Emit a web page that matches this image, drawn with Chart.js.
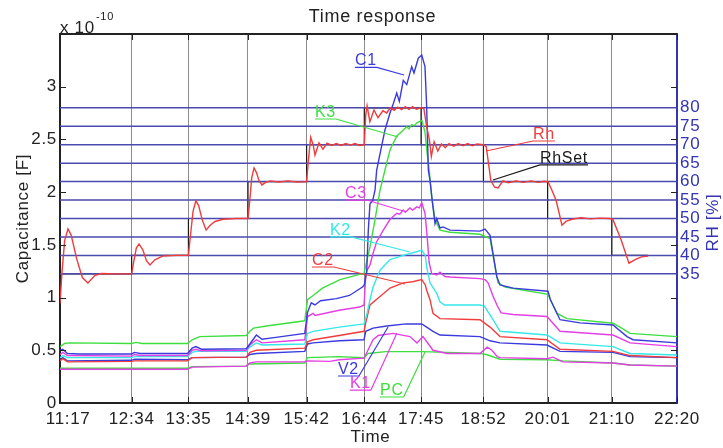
<!DOCTYPE html>
<html>
<head>
<meta charset="utf-8">
<script src="https://cdn.jsdelivr.net/npm/chart.js@4.4.1/dist/chart.umd.min.js"></script>
<style>
  html, body { margin: 0; padding: 0; background: #ffffff; }
  canvas { display: block; }
</style>
</head>
<body>
<canvas id="chart" width="723" height="448"></canvas>
<script>
// Time axis: minutes after 11:17
const timeTicks  = [0, 77, 138, 202, 265, 327, 388, 455, 524, 593, 663];
const timeLabels = ['11:17', '12:34', '13:35', '14:39', '15:42', '16:44', '17:45', '18:52', '20:01', '21:10', '22:20'];
const capTicks = [0, 0.5, 1, 1.5, 2, 2.5, 3];            // x 1e-10 F
const rhTicks  = [35, 40, 45, 50, 55, 60, 65, 70, 75, 80]; // %

// Humidity set point: level held from each change time
const rhSetChanges = [0, 77, 138, 202, 265, 327, 388, 455, 524, 593, 632];
const rhSetLevels  = [35, 40, 50, 60, 70, 80, 70, 60, 50, 40, 40];

// Measured humidity [%], [minute, value]
const Rh = [[0,27],[2,35],[5,44],[8.6,47.2],[12,45.5],[18,39],[24,34],[30,32.5],[37.6,34.6],[45,35.1],[60,35],[77,35],
  [79,38],[82,42],[84.9,43.1],[89,41.5],[93,38.5],[96.7,37.4],[102,38.8],[110,39.8],[125,40],[138,40],
  [140,45],[143,52],[146,54.8],[149,53.5],[153,49.5],[157,46.9],[162,48.3],[166.6,49.2],[175,49.8],[190,50],[202,50],
  [204,55],[206,61],[208.5,63.7],[211,62.5],[214,60.2],[217,59.1],[221,59.8],[226,60.2],[235,59.9],[245,60.2],[255,59.9],[265,60],
  [267,66],[269.4,72],[272,70],[274,67.2],[278.3,70.5],[282.6,68.8],[287,70.4],[292,69.8],[297,70.3],[302,69.8],[307,70.3],[312,69.9],[317,70.3],[322,69.8],[327,70],
  [328.5,78],[330,80.5],[333,76.2],[337.4,79.4],[341.7,77.3],[347,79.2],[351,78.6],[355,80],[359,79.3],[363,80.2],[367,79.5],[371,80.3],[375,79.6],[379,80.3],[383,79.6],[388,80],[391,79.8],
  [394,74.9],[397,71.3],[399,66.8],[402,70.8],[406,68.3],[410,70.2],[414,69.2],[418,70.3],[423,69.6],[428,70.3],[433,69.7],[438,70.3],[443,69.7],[448,70.2],[455,70],
  [458,69.5],[463,60.2],[467,58.5],[470.7,58.3],[476,60.2],[482,59.7],[490,60.2],[498,59.8],[506,60.2],[514,59.8],[520,60.1],[524.4,60],
  [528,58],[533,55],[539.4,48.2],[543.7,49.2],[550,49.8],[560,50.2],[570,49.9],[580,50.1],[590,50],
  [594,49.8],[603,44.2],[611.4,37.9],[619,39],[625,39.6],[632,39.8]];

// Sensor capacitances [x 1e-10 F], [minute, value]
const C1 = [[0,0.50],[3,0.51],[8,0.47],[20,0.465],[77,0.465],[80,0.48],[86,0.47],[137,0.47],[142,0.52],[146,0.535],[152,0.51],[200,0.515],
  [204,0.56],[211,0.645],[217,0.605],[230,0.62],[263,0.66],[266,0.86],[270,0.95],[274,0.93],[280,0.97],[297,0.99],[311,1.02],[325,1.10],[327,1.12],
  [329.6,1.25],[331.3,1.64],[333.1,1.89],[336,1.92],[338.5,2.02],[340.3,2.21],[349.2,2.59],[354.6,2.75],[358.2,2.84],[361.8,2.94],[364.6,2.86],
  [368.9,3.06],[372.6,3.02],[377.9,3.19],[380.4,3.13],[385,3.27],[388.7,3.30],[392.2,3.19],[394,2.81],[395.8,2.21],[397.6,2.11],[400.2,1.90],
  [403,1.70],[404.8,1.75],[408.3,1.66],[411.6,1.67],[419.1,1.64],[451.3,1.63],[456.7,1.65],[462.1,1.59],[469.3,1.20],[472.8,1.12],[486.8,1.09],
  [524.4,1.06],[527,0.98],[537.3,0.79],[558.8,0.76],[594.2,0.74],[609.3,0.63],[615.8,0.60],[663,0.57]];

const K3 = [[0,0.535],[5,0.565],[10,0.57],[77,0.565],[82,0.575],[88,0.565],[137,0.565],[142,0.60],[150,0.63],[200,0.64],
  [204,0.68],[208,0.71],[222,0.73],[263,0.78],[266,0.98],[272,1.02],[282,1.09],[301,1.17],[322,1.22],[326.7,1.23],
  [333.1,1.48],[338.5,1.74],[343.9,2.02],[349.2,2.21],[354.6,2.40],[361.8,2.53],[368.9,2.59],[372.6,2.62],[375,2.60],[377.9,2.64],
  [380.4,2.63],[384,2.66],[388.9,2.68],[392.2,2.57],[394.5,2.37],[396.7,2.21],[399.4,1.96],[403,1.74],[408.3,1.64],[419.1,1.62],
  [451.3,1.60],[462.1,1.56],[470.7,1.14],[478.2,1.10],[524.4,1.03],[527,0.98],[534,0.85],[544.8,0.80],[594.2,0.756],[601.8,0.72],[612.5,0.66],[663,0.63]];

const C3 = [[0,0.46],[3,0.48],[8,0.45],[77,0.445],[80,0.46],[86,0.45],[137,0.45],[142,0.50],[146,0.51],[152,0.495],[200,0.50],
  [204,0.55],[211,0.60],[217,0.57],[263,0.60],[266,0.82],[272,0.85],[274,0.83],[300,0.88],[322,0.91],[326.7,0.93],
  [328.5,1.20],[330,1.26],[333.1,1.31],[336.4,1.42],[340.3,1.53],[347.4,1.64],[354.6,1.74],[361.8,1.80],[365,1.79],[368.9,1.83],
  [371,1.81],[376.1,1.85],[379,1.83],[383.3,1.86],[386,1.85],[388.7,1.90],[392.2,1.80],[394.5,1.58],[396.7,1.33],[399.4,1.23],
  [404.8,1.215],[408.3,1.24],[413.7,1.20],[419.1,1.195],[451.3,1.18],[456.7,1.17],[460,1.14],[465,1.02],[470,0.92],[474,0.855],
  [486.8,0.84],[523.3,0.82],[537.3,0.68],[594.2,0.645],[612.5,0.57],[663,0.535]];

const K2 = [[0,0.43],[3,0.45],[8,0.43],[77,0.43],[80,0.44],[137,0.44],[142,0.48],[146,0.49],[200,0.49],
  [204,0.53],[211,0.57],[217,0.55],[263,0.56],[266,0.66],[272,0.68],[300,0.72],[326.7,0.75],
  [330,0.85],[333.1,0.98],[336.4,1.10],[343.9,1.26],[354.6,1.36],[368.9,1.40],[383.3,1.435],[388.7,1.45],[392.5,1.40],
  [394,1.29],[397.6,1.14],[404.8,1.04],[408.3,0.96],[413,0.93],[451.3,0.93],[456,0.92],[465.3,0.79],[472.8,0.68],
  [523.3,0.645],[537.3,0.57],[594.2,0.535],[612.5,0.47],[663,0.455]];

const C2 = [[0,0.40],[3,0.42],[8,0.39],[77,0.395],[80,0.40],[137,0.40],[142,0.43],[200,0.435],[204,0.48],[211,0.50],[263,0.52],
  [266,0.58],[272,0.60],[300,0.64],[326.7,0.68],[328.5,0.76],[333.1,0.93],[343.9,1.01],[354.6,1.09],[368.9,1.14],[379,1.15],
  [388.7,1.17],[392.5,1.12],[394,1.07],[397.6,0.98],[400.8,0.85],[408.3,0.80],[451.3,0.79],[462.1,0.72],[472.8,0.63],
  [523.3,0.60],[537.3,0.51],[594.2,0.49],[612.5,0.45],[663,0.43]];

const V2 = [[0,0.41],[3,0.43],[8,0.40],[77,0.405],[80,0.415],[137,0.41],[142,0.43],[200,0.435],[204,0.46],[211,0.47],[263,0.49],
  [266,0.56],[272,0.57],[300,0.59],[326.7,0.60],[328.5,0.68],[336.4,0.71],[351,0.73],[372,0.75],[388.7,0.75],[394,0.72],
  [400.8,0.68],[408.3,0.645],[451.3,0.63],[462.1,0.59],[472.8,0.57],[523.3,0.55],[537.3,0.49],[594.2,0.48],[612.5,0.44],[663,0.43]];

const K1 = [[0,0.32],[137,0.32],[142,0.34],[200,0.35],[204,0.38],[211,0.39],[263,0.39],[266,0.40],[290,0.395],[300,0.41],[326.7,0.425],
  [336.4,0.60],[342,0.64],[357.8,0.66],[376.1,0.63],[383.6,0.57],[390.1,0.63],[400.8,0.50],[415.9,0.47],[451.3,0.47],
  [459,0.53],[464,0.50],[470,0.44],[473,0.43],[523.3,0.42],[529.8,0.435],[540.5,0.39],[594.2,0.38],[612.5,0.36],[663,0.35]];

const PC = [[0,0.33],[137,0.33],[142,0.345],[200,0.35],[204,0.37],[263,0.38],[266,0.43],[300,0.44],[326.7,0.43],[331,0.47],
  [350,0.487],[390,0.487],[451.3,0.47],[458,0.46],[472.8,0.415],[523.3,0.41],[540.5,0.40],[594.2,0.38],[612.5,0.36],[663,0.35]];

const RED = '#f03c3c', BLUE = '#3a3ade', GREEN = '#3ede3e', MAGENTA = '#e43ee4', CYAN = '#34e8e8', BLACK = '#1a1a1a';
const AXIS_BLUE = '#3434b4', GRID_BLUE = '#4a4ab0', GRID_GRAY = '#8c8c8c';
const FONT = '"Liberation Sans", Arial, sans-serif';

// Labels with leader lines: text anchor and target, in (minute, capacitance) units
const callouts = [
  { text: 'C1',    color: BLUE,    at: [316.9, 3.184], to: [369.7, 3.111] },
  { text: 'K3',    color: GREEN,   at: [274.0, 2.694], to: [363.2, 2.523] },
  { text: 'Rh',    color: RED,     at: [508.3, 2.485], to: [457.8, 2.390] },
  { text: 'RhSet', color: BLACK,   at: [515.8, 2.258], to: [465.3, 2.115] },
  { text: 'C3',    color: MAGENTA, at: [306.3, 1.925], to: [368.6, 1.821] },
  { text: 'K2',    color: CYAN,    at: [290.1, 1.575], to: [376.1, 1.432] },
  { text: 'C2',    color: RED,     at: [270.8, 1.290], to: [370.7, 1.129] },
  { text: 'V2',    color: BLUE,    at: [298.7, 0.256], to: [352.5, 0.721] },
  { text: 'K1',    color: MAGENTA, at: [311.6, 0.123], to: [362.1, 0.664] },
  { text: 'PC',    color: GREEN,   at: [343.9, 0.057], to: [392.2, 0.484] }
];

const pts = arr => arr.map(p => ({ x: p[0], y: p[1] }));

function setPoints() {
  const out = [];
  for (let i = 0; i < rhSetChanges.length; i++) {
    if (i > 0) out.push({ x: rhSetChanges[i], y: rhSetLevels[i - 1] });
    out.push({ x: rhSetChanges[i], y: rhSetLevels[i] });
  }
  return out;
}

function line(label, data, color, axis, width) {
  return { label, data, borderColor: color, borderWidth: width || 1.4, pointRadius: 0, tension: 0,
           fill: false, yAxisID: axis || 'y' };
}

const datasets = [
  line('Rh', pts(Rh), RED, 'y2'),
  line('C1', pts(C1), BLUE),
  line('K3', pts(K3), GREEN),
  line('C3', pts(C3), MAGENTA),
  line('K2', pts(K2), CYAN),
  line('C2', pts(C2), RED),
  line('V2', pts(V2), BLUE),
  line('K1', pts(K1), MAGENTA),
  line('PC', pts(PC), GREEN),
  line('RhSet', setPoints(), BLACK, 'y2', 1.2)
];

const decorations = {
  id: 'decorations',
  beforeDraw(chart) {
    chart.ctx.letterSpacing = '0.7px';
  },
  // humidity grid lines sit over the set-point trace, under the measured traces
  afterDatasetDraw(chart, args) {
    if (chart.data.datasets[args.index].label !== 'RhSet') return;
    const { ctx, chartArea: a, scales } = chart;
    ctx.save();
    ctx.strokeStyle = GRID_BLUE;
    ctx.lineWidth = 1.5;
    ctx.beginPath();
    rhTicks.forEach(v => {
      const py = scales.y2.getPixelForValue(v);
      ctx.moveTo(a.left, py); ctx.lineTo(a.right, py);
    });
    ctx.stroke();
    ctx.restore();
  },
  afterDatasetsDraw(chart) {
    const { ctx, scales } = chart;
    const x = scales.x, y = scales.y;
    ctx.save();
    ctx.font = '16px ' + FONT;
    ctx.lineWidth = 1.2;
    callouts.forEach(c => {
      const x0 = x.getPixelForValue(c.at[0]);
      const y0 = y.getPixelForValue(c.at[1]);
      const w = ctx.measureText(c.text).width;
      const tx = x.getPixelForValue(c.to[0]);
      const ty = y.getPixelForValue(c.to[1]);
      ctx.fillStyle = c.color;
      ctx.strokeStyle = c.color;
      ctx.textBaseline = 'alphabetic';
      ctx.textAlign = 'left';
      ctx.fillText(c.text, x0, y0 - 2);
      const x1 = x0 + w;
      const sx = tx > x1 ? x1 : x0;
      ctx.beginPath();
      ctx.moveTo(x0, y0);
      ctx.lineTo(x1, y0);
      ctx.moveTo(sx, y0);
      ctx.lineTo(tx, ty);
      ctx.stroke();
    });
    ctx.restore();
  },
  afterDraw(chart) {
    const { ctx, chartArea: a, scales } = chart;
    ctx.save();
    // top frame
    ctx.strokeStyle = '#222';
    ctx.lineWidth = 2;
    ctx.beginPath();
    ctx.moveTo(a.left - 1, a.top);
    ctx.lineTo(a.right, a.top);
    ctx.stroke();
    // inward tick marks
    ctx.lineWidth = 1;
    ctx.strokeStyle = '#222';
    ctx.beginPath();
    capTicks.forEach(v => {
      const py = Math.round(scales.y.getPixelForValue(v)) + 0.5;
      ctx.moveTo(a.left, py); ctx.lineTo(a.left + 6, py);
      ctx.moveTo(a.right, py); ctx.lineTo(a.right - 6, py);
    });
    timeTicks.forEach(v => {
      const px = Math.round(scales.x.getPixelForValue(v)) + 0.5;
      ctx.moveTo(px, a.bottom); ctx.lineTo(px, a.bottom - 6);
      ctx.moveTo(px, a.top); ctx.lineTo(px, a.top + 6);
    });
    ctx.stroke();
    // titles
    ctx.fillStyle = '#222';
    ctx.textAlign = 'center';
    ctx.textBaseline = 'middle';
    ctx.font = '18px ' + FONT;
    ctx.fillText('Time response', (a.left + a.right) / 2 + 4, 17);
    ctx.font = '17px ' + FONT;
    ctx.fillText('Time', (a.left + a.right) / 2 + 2, 437);
    ctx.save();
    ctx.translate(23, (a.top + a.bottom) / 2);
    ctx.rotate(-Math.PI / 2);
    ctx.fillText('Capacitance [F]', 0, 0);
    ctx.restore();
    ctx.save();
    ctx.fillStyle = AXIS_BLUE;
    ctx.translate(713, (a.top + a.bottom) / 2 + 4);
    ctx.rotate(-Math.PI / 2);
    ctx.fillText('RH [%]', 0, 0);
    ctx.restore();
    // exponent of the capacitance axis
    ctx.textAlign = 'left';
    ctx.textBaseline = 'alphabetic';
    ctx.font = '17px ' + FONT;
    ctx.fillText('x 10', a.left, a.top - 1);
    ctx.font = '11px ' + FONT;
    ctx.fillText('-10', a.left + 36, a.top - 14);
    ctx.restore();
  }
};

new Chart(document.getElementById('chart'), {
  type: 'line',
  data: { datasets },
  options: {
    responsive: false,
    animation: false,
    devicePixelRatio: 1,
    layout: { padding: { top: 34, left: 0, right: 0, bottom: 0 } },
    plugins: { legend: { display: false }, tooltip: { enabled: false }, title: { display: false } },
    scales: {
      x: {
        type: 'linear', min: 0, max: 663,
        afterBuildTicks: s => { s.ticks = timeTicks.map(v => ({ value: v })); },
        afterFit: s => { s.height = 45; },
        // the first label sits slightly inside the frame
        ticks: { callback: (v, i) => (i === 0 ? '   ' : '') + timeLabels[i], color: '#222',
                 font: { family: FONT, size: 17 }, padding: 6, maxRotation: 0, autoSkip: false },
        grid: { color: GRID_GRAY, lineWidth: 1, drawTicks: false },
        border: { color: '#222', width: 2 }
      },
      y: {
        position: 'left', min: 0, max: 3.5,
        afterBuildTicks: s => { s.ticks = capTicks.map(v => ({ value: v })); },
        afterFit: s => { s.width = 60; },
        ticks: { callback: v => String(v), color: '#222', font: { family: FONT, size: 17 }, padding: 3 },
        grid: { display: false, drawTicks: false },
        border: { color: '#222', width: 2 }
      },
      y2: {
        position: 'right', min: 0, max: 100,
        afterBuildTicks: s => { s.ticks = rhTicks.map(v => ({ value: v })); },
        afterFit: s => { s.width = 46; },
        ticks: { color: AXIS_BLUE, font: { family: FONT, size: 17 }, padding: 3 },
        grid: { display: false, drawTicks: false },
        border: { color: AXIS_BLUE, width: 2 }
      }
    }
  },
  plugins: [decorations]
});
</script>
</body>
</html>
